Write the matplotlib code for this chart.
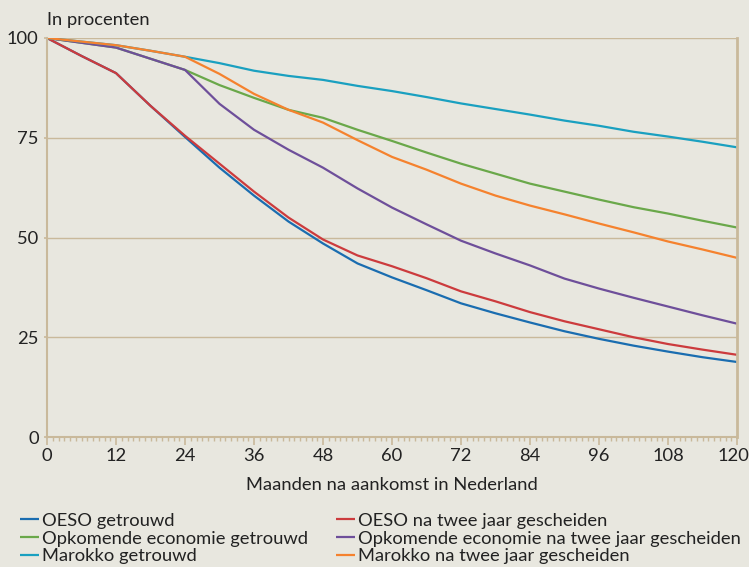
import matplotlib
matplotlib.use("Agg")
import matplotlib.pyplot as plt
import matplotlib.transforms as mtransforms
from matplotlib.ticker import MultipleLocator

plt.rcParams['font.family'] = ['Lato', 'DejaVu Sans']

months = [0, 6, 12, 18, 24, 30, 36, 42, 48, 54, 60, 66, 72, 78, 84, 90, 96, 102, 108, 114, 120]

oeso_getrouwd = [100, 95.5, 91.2, 83, 75.2, 67.5, 60.5, 54, 48.5, 43.5, 40, 36.8, 33.5, 31, 28.7, 26.5, 24.6, 22.9, 21.4, 20, 18.8]
oeso_gescheiden = [100, 95.5, 91.2, 83, 75.5, 68.5, 61.5, 55, 49.5, 45.5, 42.8, 39.8, 36.5, 34, 31.3, 29, 27, 25, 23.3, 21.9, 20.6]
opk_getrouwd = [100, 98.8, 97.6, 94.8, 92, 88.2, 85, 82, 80, 77, 74.2, 71.3, 68.5, 66, 63.5, 61.5, 59.5, 57.6, 56, 54.2, 52.5]
opk_gescheiden = [100, 98.8, 97.6, 94.8, 92, 83.5, 77, 72, 67.5, 62.3, 57.5, 53.3, 49.2, 46, 43, 39.7, 37.2, 34.9, 32.7, 30.5, 28.4]
mar_getrouwd = [100, 99.1, 98.2, 96.8, 95.3, 93.7, 91.8, 90.5, 89.5, 88, 86.7, 85.2, 83.6, 82.2, 80.8, 79.3, 78, 76.5, 75.3, 74, 72.6]
mar_gescheiden = [100, 99.1, 98.2, 96.8, 95.3, 91, 86, 82, 78.8, 74.4, 70.2, 67, 63.5, 60.5, 58, 55.8, 53.5, 51.3, 49, 47, 44.9]

labels = ["OESO getrouwd", "OESO na twee jaar gescheiden",
          "Opkomende economie getrouwd", "Opkomende economie na twee jaar gescheiden",
          "Marokko getrouwd", "Marokko na twee jaar gescheiden"]
series = [oeso_getrouwd, oeso_gescheiden, opk_getrouwd, opk_gescheiden, mar_getrouwd, mar_gescheiden]
colors = ["#1a6db0", "#cc3b3d", "#6aa84a", "#6e4f9a", "#1aa0c0", "#f5822e"]

bg = "#e8e7df"
tan = "#c9b99b"
txt = '#222222'
fs = 13.2

fig = plt.figure(figsize=(7.49, 5.67), dpi=100, facecolor=bg)
ax = fig.add_axes([47/749, 1-437/567, (737-47)/749, (437-38)/567], facecolor=bg)

handles = {}
for lab, ys, c in zip(labels, series, colors):
    h, = ax.plot(months, ys, color=c, lw=1.6, solid_capstyle='butt')
    handles[lab] = h

ax.set_xlim(0, 120)
ax.set_ylim(0, 100)
ax.set_xticks(range(0, 121, 12))
ax.xaxis.set_minor_locator(MultipleLocator(1))
ax.set_yticks([0, 25, 50, 75, 100])
ax.yaxis.grid(True, color=tan, lw=1.0)
ax.set_axisbelow(True)
for s in ['left', 'bottom', 'right']:
    ax.spines[s].set_color(tan)
    ax.spines[s].set_linewidth(1.5)
ax.spines['right'].set_linewidth(2.0)
ax.spines['top'].set_visible(False)
ax.tick_params(axis='x', which='major', length=6, width=1.2, color=tan, direction='out', pad=2, labelsize=fs, labelcolor=txt)
ax.tick_params(axis='x', which='minor', length=3, width=1.0, color=tan, direction='out')
ax.tick_params(axis='y', which='major', length=2, width=1.2, color=tan, pad=4, labelsize=fs, labelcolor=txt)
ax.set_xlabel("Maanden na aankomst in Nederland", fontsize=fs, color=txt, labelpad=9)

# keep the last tick label inside the figure edge
fig.canvas.draw()
last = ax.get_xticklabels()[-1]
last.set_transform(last.get_transform() + mtransforms.ScaledTranslation(-4/100, 0, fig.dpi_scale_trans))

fig.text(47/749, 1-20/567, "In procenten", fontsize=fs, color=txt, va='center', ha='left')

order = [labels[0], labels[2], labels[4], labels[1], labels[3], labels[5]]
leg = fig.legend([handles[l] for l in order], order, loc='lower left', bbox_to_anchor=(0.022, -0.002),
                 ncol=2, frameon=False, fontsize=fs, handlelength=1.05, handletextpad=0.15,
                 columnspacing=1.5, labelspacing=0.1, borderaxespad=0, borderpad=0.2)
for t in leg.get_texts():
    t.set_color(txt)

fig.savefig("out.png", dpi=100, facecolor=bg)
